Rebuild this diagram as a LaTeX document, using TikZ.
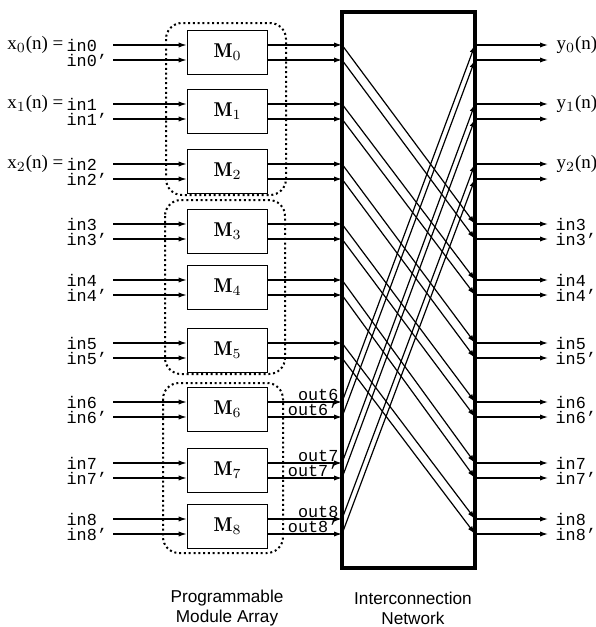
\documentclass[tikz,border=0pt]{standalone}
\usepackage{fontspec}
\setmonofont{Liberation Mono}
\setsansfont{Liberation Sans}
\newfontfamily\timesfont{Liberation Serif}
\usetikzlibrary{arrows.meta}

\begin{document}
\begin{tikzpicture}[
  x=0.5pt,y=-0.5pt,
  line width=0.6pt,
  module/.style={draw,line width=0.8pt,minimum width=40pt,minimum height=22pt,
                 inner sep=0pt,font=\fontsize{10}{12}\selectfont},
  network/.style={draw,line width=1.6pt,minimum width=66.5pt,minimum height=278pt,
                  inner sep=0pt},
  group/.style={draw,line width=1pt,dash pattern=on 1pt off 1.4pt,
                rounded corners=8pt},
  sig/.style={-{Latex[length=4pt,width=2.6pt]}},
  ttlabel/.style={font=\fontsize{8.4}{10}\ttfamily,inner sep=0pt},
  rmlabel/.style={font=\fontsize{9.5}{11}\timesfont,inner sep=0pt},
  caption/.style={font=\fontsize{8.6}{10}\sffamily,align=center}
]
\useasboundingbox (0,0) rectangle (595,627);

% interconnection network
\node[network] (net) at (408.5,290) {};

% module array, its inputs and outputs
\foreach \k/\y in {0/45,1/104,2/164,3/224,4/280,5/343,6/402,7/463,8/519}{
  \node[module] (M\k) at (227.5,\y+7.5) {$\mathbf{M}_{\k}$};
  \coordinate (Ia\k) at (113,\y);
  \coordinate (Ib\k) at (113,\y+15);
  \coordinate (La\k) at (342,\y);
  \coordinate (Lb\k) at (342,\y+15);
  \coordinate (Ra\k) at (475,\y);
  \coordinate (Rb\k) at (475,\y+15);
  \coordinate (Oa\k) at (548,\y);
  \coordinate (Ob\k) at (548,\y+15);
  \draw[sig] (Ia\k) -- (Ia\k -| M\k.west);
  \draw[sig] (Ib\k) -- (Ib\k -| M\k.west);
  \draw[sig] (La\k -| M\k.east) -- (La\k);
  \draw[sig] (Lb\k -| M\k.east) -- (Lb\k);
  \draw[sig] (Ra\k) -- (Oa\k);
  \draw[sig] (Rb\k) -- (Ob\k);
  \node[ttlabel,anchor=west] (ina\k) at (66,\y) {in\k};
  \node[ttlabel,anchor=west] (inb\k) at (66,\y+15) {in\k’};
}

% dotted module groups
\draw[group] (166,23) rectangle (286,195);
\draw[group] (165,200) rectangle (285,374);
\draw[group] (163,383) rectangle (283,553);

% crossing paths inside the network
\foreach \k/\j in {0/3,1/4,2/5,3/6,4/7,5/8,6/0,7/1,8/2}{
  \draw[sig] (La\k) -- (Ra\j);
  \draw[sig] (Lb\k) -- (Rb\j);
}

% signal names
\foreach \k in {0,1,2}{
  \node[rmlabel,anchor=east] (x\k) at ([xshift=-1pt]ina\k.west) {x$_{\k}$(n) =};
  \node[rmlabel,anchor=west] (y\k) at ([xshift=4pt]Oa\k) {y$_{\k}$(n)};
}
\foreach \k in {3,...,8}{
  \node[ttlabel,anchor=west] (fa\k) at ([xshift=3.5pt]Oa\k) {in\k};
  \node[ttlabel,anchor=west] (fb\k) at ([xshift=3.5pt]Ob\k) {in\k’};
}
\foreach \k in {6,7,8}{
  \node[ttlabel,anchor=base east] (outa\k) at ([xshift=-1.5pt,yshift=1pt]La\k) {out\k};
  \node[ttlabel,anchor=base east] (outb\k) at ([xshift=-1.5pt,yshift=1pt]Lb\k) {out\k’};
}

\node[caption] (pma) at (227,608) {Programmable\\Module Array};
\node[caption] (icn) at (413,608) {Interconnection\\Network};
\end{tikzpicture}
\end{document}
